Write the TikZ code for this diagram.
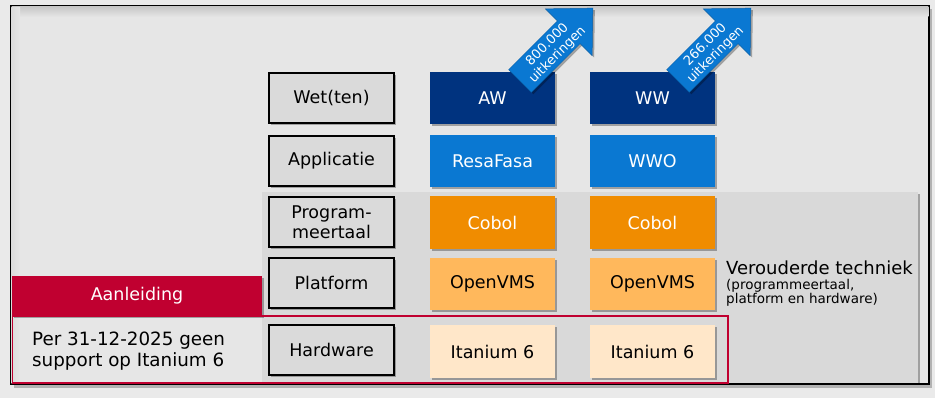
\documentclass[tikz,border=0pt]{standalone}
\usepackage{fontspec}
\setmainfont{DejaVu Sans}
\usetikzlibrary{shadows}
\definecolor{outerbg}{HTML}{EAEAEA}
\definecolor{framebg}{HTML}{E6E6E6}
\definecolor{oldgray}{HTML}{D9D9D9}
\definecolor{labgray}{HTML}{DADADA}
\definecolor{darkblue}{HTML}{00337F}
\definecolor{midblue}{HTML}{0A78D2}
\definecolor{cobol}{HTML}{F08C00}
\definecolor{vms}{HTML}{FFB85C}
\definecolor{itan}{HTML}{FFE7C9}
\definecolor{redc}{HTML}{C00030}
\tikzset{
  shad/.style={drop shadow={shadow xshift=2pt,shadow yshift=-2pt,opacity=.3,fill=black}},
  lab/.style={draw=black,line width=1.6pt,fill=labgray,minimum width=125pt,minimum height=50pt,
    inner sep=0pt,align=center,font=\fontsize{17.5}{20}\selectfont,shad},
  cell/.style={minimum width=125pt,minimum height=52pt,inner sep=0pt,align=center,
    font=\fontsize{17.5}{20}\selectfont,shad},
  arrtext/.style={text=white,align=center,font=\fontsize{13}{14.5}\selectfont,inner sep=0pt},
  arrowfill/.style={fill=midblue,draw=midblue!80!black,line width=0.5pt,shad},
  txt/.style={inner sep=0pt,anchor=west,align=left}
}
\begin{document}
\begin{tikzpicture}[x=1pt,y=-1pt]
\useasboundingbox (0,0) rectangle (935,398);
\fill[outerbg] (0,0) rectangle (935,398);
% frame
\fill[black!30] (14,9) rectangle (932,388);
\filldraw[fill=framebg,draw=black,line width=1.2pt] (11,6) rectangle (929,384);
\shade[top color=black!22,bottom color=framebg] (11.6,6.6) rectangle (928.4,17);
\shade[left color=black!14,right color=framebg] (11.6,8) rectangle (20,383.4);
% outdated technology area
\fill[oldgray,shad] (262,192) rectangle (918,383.4);
% Aanleiding
\node[fill=redc,text=white,minimum width=250pt,minimum height=40pt,inner sep=0pt,
  font=\fontsize{17.5}{20}\selectfont,shad] (aan) at (137,296) {Aanleiding};
\draw[redc,line width=1.6pt] (12.5,316) rectangle (728,383);
% label boxes
\node[lab] (wet) at (331.5,98) {Wet(ten)};
\node[lab] (app) at (331.5,161) {Applicatie};
\node[lab] (prog) at (331.5,222) {Program-\\meertaal};
\node[lab] (plat) at (331.5,283) {Platform};
\node[lab] (hard) at (331.5,350) {Hardware};
% column 1
\node[cell,fill=darkblue,text=white] (aw) at (492.5,98) {AW};
\node[cell,fill=midblue,text=white] (resa) at (492.5,161) {ResaFasa};
\node[cell,fill=cobol,text=white,minimum height=53pt] (cob1) at (492.5,222.5) {Cobol};
\node[cell,fill=vms] (vms1) at (492.5,284) {OpenVMS};
\node[cell,fill=itan,minimum height=53pt] (ita1) at (492.5,351.5) {Itanium 6};
% column 2
\node[cell,fill=darkblue,text=white] (ww) at (652.5,98) {WW};
\node[cell,fill=midblue,text=white] (wwo) at (652.5,161) {WWO};
\node[cell,fill=cobol,text=white,minimum height=53pt] (cob2) at (652.5,222.5) {Cobol};
\node[cell,fill=vms] (vms2) at (652.5,284) {OpenVMS};
\node[cell,fill=itan,minimum height=53pt] (ita2) at (652.5,351.5) {Itanium 6};
% arrows
\begin{scope}[shift={(520,81)},x={(0.7071pt,0.7071pt)},y={(0.7071pt,-0.7071pt)}]
  \filldraw[arrowfill] (0,-16) -- (69,-16) -- (69,-33) -- (103,0) -- (69,33) -- (69,16) -- (0,16) -- cycle;
  \node[arrtext,rotate=45] (n1) at (45,1) {800.000\\uitkeringen};
\end{scope}
\begin{scope}[shift={(678,81)},x={(0.7071pt,0.7071pt)},y={(0.7071pt,-0.7071pt)}]
  \filldraw[arrowfill] (0,-16) -- (69,-16) -- (69,-33) -- (103,0) -- (69,33) -- (69,16) -- (0,16) -- cycle;
  \node[arrtext,rotate=45] (n2) at (45,1) {266.000\\uitkeringen};
\end{scope}
% texts
\node[txt,font=\fontsize{18.3}{20.5}\selectfont] (per) at (32,351) {Per 31-12-2025 geen\\support op Itanium 6};
\node[txt,font=\fontsize{18}{20}\selectfont] (ver) at (726,268) {Verouderde techniek};
\node[txt,font=\fontsize{13.5}{14.5}\selectfont] (verx) at (726,293) {(programmeertaal,\\platform en hardware)};
\end{tikzpicture}
\end{document}
